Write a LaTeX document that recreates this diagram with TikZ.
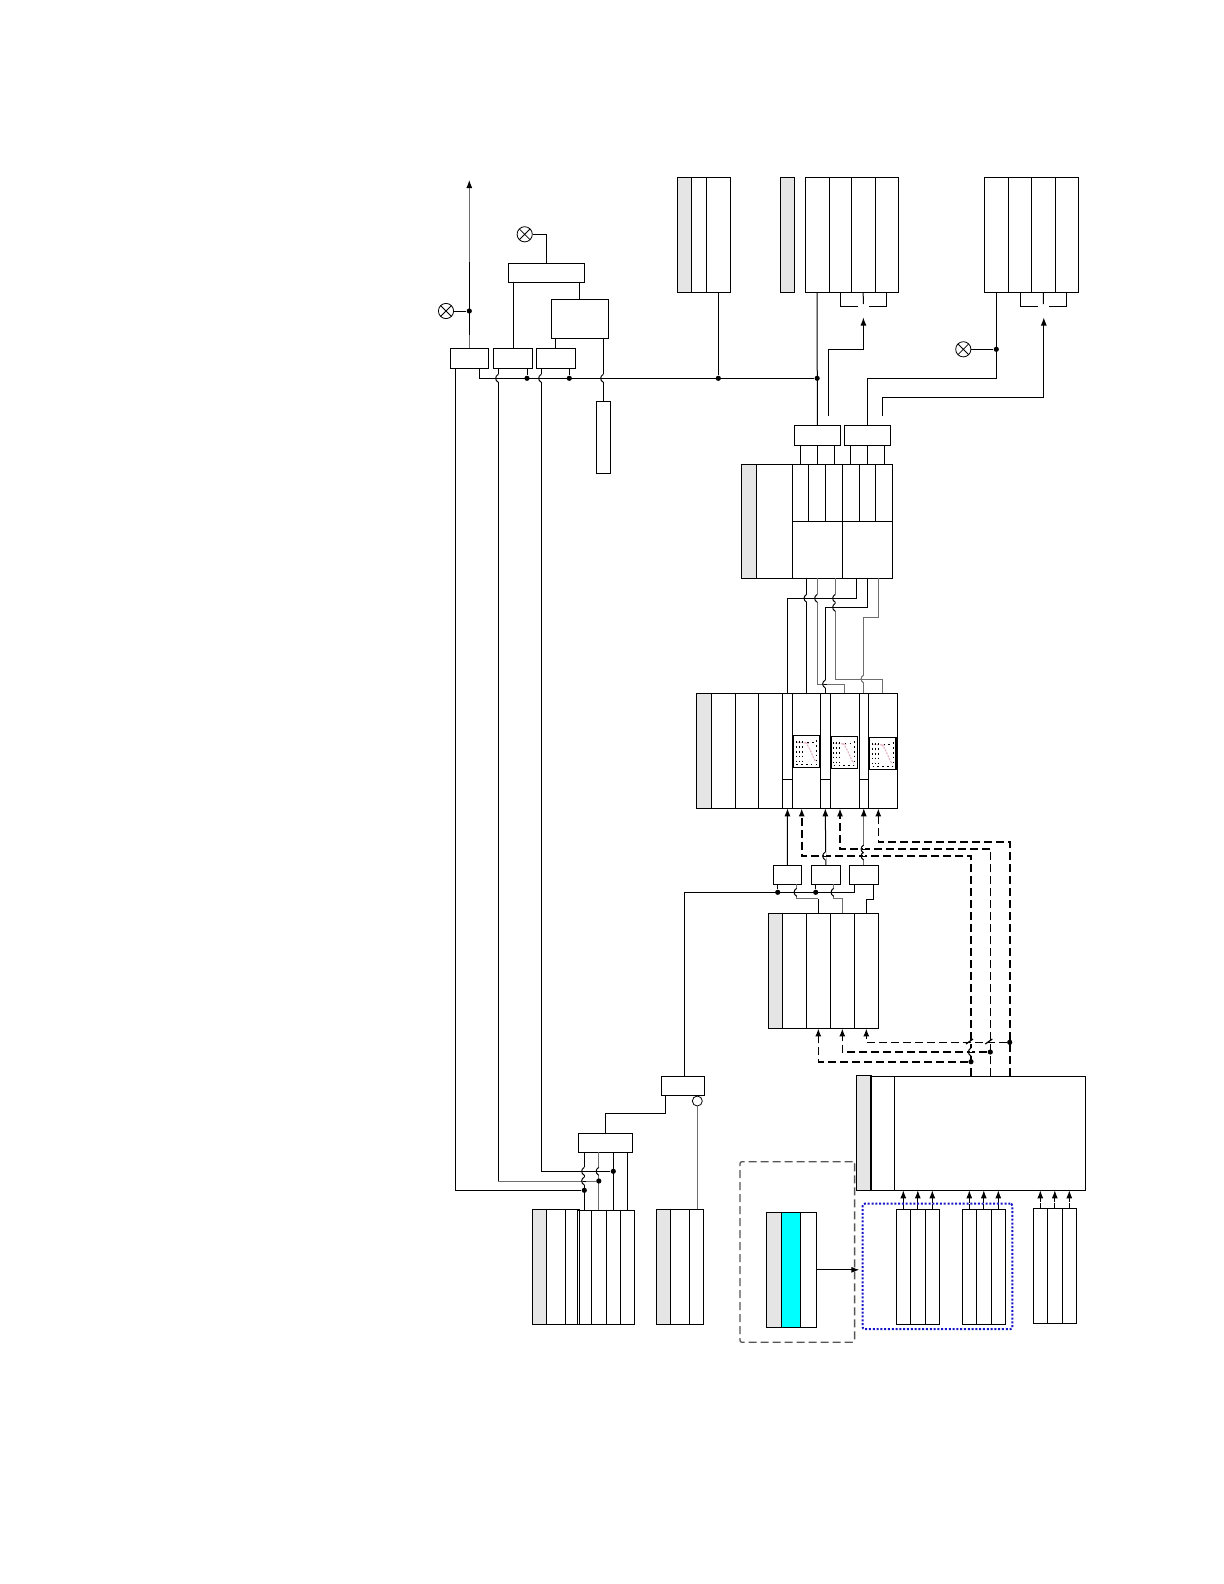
\documentclass[tikz,border=0pt]{standalone}
\usetikzlibrary{arrows.meta}
\definecolor{panelgray}{RGB}{229,229,229}
\definecolor{wiregray}{RGB}{110,110,110}
\definecolor{framegray}{RGB}{85,85,85}
\definecolor{linkblue}{RGB}{20,20,200}
\definecolor{plotpink}{RGB}{225,170,185}
\definecolor{slotcyan}{RGB}{0,255,255}
\tikzset{
	wire/.style={line width=.5pt},
	greywire/.style={line width=.5pt,draw=wiregray},
	dashwire/.style={line width=.8pt,dash pattern=on 4pt off 2pt},
	tip/.style={-{Latex[length=4pt,width=3pt,color=black]}},
	cell/.style={draw,line width=.5pt,inner sep=0pt,outer sep=0pt},
	shaded/.style={fill=panelgray},
	dot/.style={circle,fill=black,inner sep=0pt,minimum size=2.6pt},
	lamp/.style={circle,draw,line width=.4pt,inner sep=0pt,minimum size=7.6pt,
		path picture={\draw[line width=.4pt] (path picture bounding box.north west)--(path picture bounding box.south east)
			(path picture bounding box.north east)--(path picture bounding box.south west);}},
	ring/.style={circle,draw,line width=.4pt,inner sep=0pt,minimum size=5pt},
}
\newcommand{\cellbox}[6][]{\node[cell,#1,minimum width={(#4-#2)*.5pt},minimum height={(#5-#3)*.5pt}] (#6) at ({(#2+#4)/2},{(#3+#5)/2}) {};}
\newcommand{\cellrow}[6][]{\foreach \xr [count=\n,remember=\xr as \xl (initially #5)] in {#6} {
		\ifnum\n=1 \cellbox[#1]{\xl}{#3}{\xr}{#4}{#2\n} \else \cellbox{\xl}{#3}{\xr}{#4}{#2\n} \fi}}
\newcommand{\hopv}[3][wire]{
	\fill[white] (#2-.9,#3-4) rectangle (#2+.9,#3+4);
	\draw[#1] (#2-1.2,#3) -- (#2+1.2,#3);
	\draw[#1] (#2,#3-4) .. controls (#2-3.5,#3-2) and (#2-3.5,#3+2) .. (#2,#3+4);}
\newcommand{\miniplot}[3]{
	\cellbox[line width=.75pt,fill=white]{#2}{#3}{#2+26.7}{#3+32}{#1}
	\draw[plotpink,line width=.5pt,dash pattern=on 1pt off .6pt] (#2+12,#3+7) .. controls (#2+17,#3+12) and (#2+19,#3+22) .. (#2+23,#3+27);
	\draw[plotpink,line width=.5pt,dash pattern=on 1pt off .6pt] (#2+4,#3+7) -- (#2+16,#3+8);
	\foreach \ix in {3,6,9} \draw[line width=.45pt,dash pattern=on .8pt off 1.6pt] (#2+\ix,#3+6) -- (#2+\ix,#3+29);
	\draw[line width=.5pt,dash pattern=on .8pt off 1.6pt] (#2+3,#3+29) -- (#2+23,#3+29);
	\draw[line width=.5pt,dash pattern=on .8pt off 1.6pt] (#2+14,#3+7) -- (#2+23,#3+7);
	\draw[line width=.5pt,dash pattern=on .8pt off 1.6pt] (#2+23.5,#3+5) -- (#2+23.5,#3+29);}
\begin{document}
\begin{tikzpicture}[x=.5pt,y=-.5pt]
	\useasboundingbox (0,0) rectangle (1224,1584);
	%Top row of stacks
	\cellrow[shaded]{g}{177.3}{292.3}{677.3}{691.7,706.3,730.3}
	\cellbox[shaded]{780.7}{177.3}{794.8}{292.3}{h}
	\cellrow{i}{177.3}{292.3}{805.3}{829,851.3,875,898.3}
	\cellrow{j}{177.3}{292.3}{984.3}{1008.3,1031.7,1055,1078.3}
	%Small boxes on the left
	\cellbox{450.3}{348}{488.3}{368.3}{boxa}
	\cellbox{493.3}{348}{532.3}{368.3}{boxb}
	\cellbox{536.3}{348}{575.3}{368.3}{boxc}
	\cellbox{508.3}{263.3}{584.3}{282.3}{boxd}
	\cellbox{551.3}{299.3}{608.3}{338.3}{boxe}
	\cellbox{596.3}{401}{610.3}{473.3}{barf}
	\node[lamp] (lampa) at (446,311) {};
	\node[lamp] (lampb) at (524.7,234.3) {};
	\node[lamp] (lampc) at (963.3,349.3) {};
	%Top arrow
	\coordinate (topmid) at (469.3,262);
	\coordinate (toptip) at (469.3,180);
	\draw[wire] (boxa.north) -- (topmid);
	\draw[greywire,tip] (topmid) -- (toptip);
	\draw[greywire] (boxa.north) -- ++(0,-13);
	\node[dot] (dota) at (boxa.north |- lampa) {};
	\draw[wire] (lampa) -- (dota);
	%Around the small boxes
	\draw[wire] (lampb) -| (boxd.north);
	\draw[wire] (513.3,282.3) -- (513.3,348);
	\draw[wire] (579.3,282.3) -- (579.3,299.3);
	\draw[wire] (555.7,338.3) -- (555.7,348);
	\draw[wire] (603.3,338.3) -- (barf.north);
	%Bus
	\coordinate (busa) at (479.3,378.3);
	\node[dot] (dotb) at (527,378.3) {};
	\node[dot] (dotc) at (569.3,378.3) {};
	\node[dot] (dotg) at (g3.south |- busa) {};
	\node[dot] (doti) at (i1.south |- busa) {};
	\draw[wire] (busa |- boxa.south) |- (doti);
	\draw[wire] (dotb |- boxb.south) -- (dotb);
	\draw[wire] (dotc |- boxc.south) -- (dotc);
	\draw[wire] (g3.south) -- (dotg);
	%Top stacks down to the two boxes
	\cellbox{794.3}{425.3}{840.3}{445.3}{boxk}
	\cellbox{844.3}{425.3}{890.3}{445.3}{boxl}
	\draw[wire] (i1.south) -- (boxk.north);
	\node[dot] (dotj) at (j1.south |- lampc) {};
	\draw[wire] (lampc) -- (dotj);
	\draw[wire] (j1.south) |- (boxl.north |- busa) -- (boxl.north);
	\coordinate (bri) at (863.4,306);
	\coordinate (brj) at (1043.4,306);
	\draw[wire] (i2.south) |- ([xshift=-2.9pt]bri);
	\draw[wire] (i4.south) |- ([xshift=2.9pt]bri);
	\draw[wire] (i3.south) -- ([yshift=1pt]bri);
	\draw[wire] (j2.south) |- ([xshift=-2.9pt]brj);
	\draw[wire] (j4.south) |- ([xshift=2.9pt]brj);
	\draw[wire] (j3.south) -- ([yshift=1pt]brj);
	\coordinate (kout) at (828.3,416);
	\coordinate (lout) at (882.3,416);
	\coordinate (itip) at (863.4,317.5);
	\coordinate (jtip) at (1043.8,317.5);
	\draw[wire,tip] (kout) |- (itip |- lampc) -- (itip);
	\draw[wire,tip] (lout) -- (lout |- 0,397.3) -| (jtip);
	%Stack with the two sided cells
	\cellrow[shaded]{m}{464.3}{578.3}{741.3}{756.3,792.3}
	\cellrow{mu}{464.3}{521.3}{792.3}{808.7,825.7,842.3,859.3,875.7,892.3}
	\cellrow{ml}{521.3}{578.3}{792.3}{842.3,892.3}
	\foreach \n in {1,2,3} \draw[wire] (mu\n.north) -- (mu\n.north |- boxk.south);
	\foreach \n in {4,5,6} \draw[wire] (mu\n.north) -- (mu\n.north |- boxl.south);
	%Stack with the small plots
	\cellrow[shaded]{n}{693.3}{808.3}{696.3}{711.3,735.3,758.3,782.7,792.3,820.3,830.3,859.3,868.3,897.3}
	\cellbox{782.7}{779.3}{792.3}{808.3}{nfa}
	\cellbox{820.3}{779.3}{830.3}{808.3}{nfb}
	\cellbox{859.3}{779.3}{868.3}{808.3}{nfc}
	\miniplot{plota}{793.3}{735.3}
	\miniplot{plotb}{830.8}{736.3}
	\miniplot{plotc}{869.5}{737.3}
	%Wires between the two stacks
	\coordinate (outa) at (835.3,578.3);
	\coordinate (outb) at (856.3,578.3);
	\coordinate (outc) at (878,578.3);
	\draw[wire] (n6.north |- ml1.south) -- (n6.north);
	\draw[greywire] (ml1.south) -- (ml1.south |- 0,684) -| (n8.north);
	\draw[greywire] (outa) -- (outa |- 0,679) -| (n10.north);
	\draw[wire] (outb) -- (outb |- 0,598.3) -| (n5.north);
	\draw[wire] (ml2.south) -- (ml2.south |- 0,607.3) -| (n7.north);
	\draw[greywire] (outc) -- (outc |- 0,617) -| (n9.north);
	\hopv{806.7}{598.3}
	\hopv{817.3}{598.3}
	\hopv{835.3}{598.3}
	\hopv{835.3}{607.3}
	\hopv{825.3}{684}
	\hopv[greywire]{863.7}{679}
	%Boxes under the plots
	\cellbox{773.3}{865.3}{801.3}{884.3}{boxp}
	\cellbox{811.3}{865.3}{840.3}{884.3}{boxq}
	\cellbox{849.3}{865.3}{878.3}{884.3}{boxs}
	\draw[wire,tip] (boxp.north) -- (n5.south);
	\draw[wire,tip] (boxq.north) -- (n7.south);
	\draw[greywire,tip] (boxs.north) -- (n9.south);
	%Stack under the boxes
	\cellrow[shaded]{s}{913.3}{1028.3}{768.3}{782.3,806.3,830.3,854.3,878.3}
	\cellbox{661.3}{1076.3}{704.3}{1095}{boxr}
	\node[dot] (dotp) at (777.7,892.3) {};
	\node[dot] (dotq) at (815.7,892.3) {};
	\draw[wire] (854.7,884.3) |- (684.7,892.3) -- (684.7,1076.3);
	\draw[wire] (dotp) -- (dotp |- boxp.south);
	\draw[wire] (dotq) -- (dotq |- boxq.south);
	\draw[wire] (s3.north) -- (s3.north |- 0,898.7);
	\draw[greywire] (s3.north |- 0,898.7) -| (796.7,884.3);
	\draw[greywire] (s4.north) -- (s4.north |- 0,898.7) -| (833.7,884.3);
	\draw[wire] (s5.north) -- (s5.north |- 0,899.3) -| (873.7,884.3);
	\hopv{796.7}{892.3}
	\hopv{833.7}{892.3}
	%Large stack and the dashed loops
	\cellbox[shaded]{856.3}{1075}{870.7}{1190.3}{tg}
	\cellrow{t}{1076.3}{1190.3}{870.7}{894.3,1085.7}
	\draw[line width=.9pt] (tg.north east) -- (tg.south east);
	\coordinate (loopa) at (971,1076.3);
	\coordinate (loopb) at (990.3,1076.3);
	\coordinate (loopc) at (1009.7,1076.3);
	\coordinate (ntipa) at (801.7,808.3);
	\coordinate (ntipb) at (840,808.3);
	\coordinate (ntipc) at (878.3,808.3);
	\draw[dashwire,tip] (loopa) -- (loopa |- 0,856) -| (ntipa);
	\draw[dashwire,tip] (loopb) -- (loopb |- 0,849) -| (ntipb);
	\draw[dashwire,tip] (loopc) -- (loopc |- 0,842) -| (ntipc);
	\node[dot] (dotsa) at (loopa |- 0,1061.7) {};
	\node[dot] (dotsb) at (loopb |- 0,1052) {};
	\node[dot] (dotsc) at (loopc |- 0,1042.3) {};
	\draw[dashwire,tip] (dotsa) -| (s3.south);
	\draw[dashwire,tip] (dotsb) -| (s4.south);
	\draw[dashwire,tip] (dotsc) -| (s5.south);
	\hopv{825.3}{856}
	\hopv{863.7}{856}
	\hopv{863.7}{849}
	\hopv{971}{1052}
	\draw[line width=.6pt] (966,1044) -- (973,1039);
	\draw[line width=.6pt] (985.3,1044) -- (992.3,1039);
	%Stacks at the bottom right
	\cellrow{ua}{1209.3}{1324.3}{896.3}{910.3,925.3,939.3}
	\cellrow{ub}{1209.3}{1324.3}{962.3}{976.3,991.3,1005.3}
	\cellrow{uc}{1208.3}{1323.3}{1033.3}{1047.3,1062.3,1076.3}
	\foreach \u in {ua,ub,uc} \foreach \n in {1,2,3}
		\draw[wire,dash pattern=on 2.5pt off .8pt,tip] (\u\n.north) -- (\u\n.north |- t2.south);
	\node[draw=linkblue,line width=1pt,dash pattern=on 1pt off .9pt,rounded corners=1pt,inner sep=0pt,minimum width=74.8pt,minimum height=62.7pt] (linkbox) at (937.5,1266.4) {};
	%Stack with the cyan cell
	\node[draw=framegray,line width=.65pt,dash pattern=on 4pt off 2pt,rounded corners=1pt,inner sep=0pt,minimum width=57.3pt,minimum height=90.3pt] (spare) at (797.3,1252) {};
	\cellbox[shaded]{766.3}{1212.3}{781.7}{1327.3}{va}
	\cellbox[fill=slotcyan]{781.7}{1212.3}{800.3}{1327.3}{vb}
	\cellbox{800.3}{1212.3}{816.3}{1327.3}{vc}
	\draw[wire,tip] (vc.east) -- (vc.east -| 859.3,0);
	%Stacks at the bottom left
	\cellrow[shaded]{y}{1209.3}{1324.3}{532.3}{546.7,565.7,579.7}
	\cellrow{z}{1210.3}{1324.3}{577.3}{591.3,606.3,620.3,634.7}
	\cellrow[shaded]{w}{1209.3}{1324.3}{656.3}{670.3,689.3,703.3}
	\cellbox{578.3}{1133.3}{632.3}{1152.3}{boxx}
	\node[ring] (ringr) at (697.3,1101) {};
	\draw[greywire] (ringr) -- (ringr |- w3.north);
	\draw[wire] (665.3,1095) |- (boxx.north |- 0,1113.3) -- (boxx.north);
	\draw[wire] (z1.north) -- (z1.north |- boxx.south);
	\draw[greywire] (z2.north) -- (z2.north |- boxx.south);
	\draw[wire] (z3.north) -- (z3.north |- boxx.south);
	\draw[wire] (z4.north) -- (z4.north |- boxx.south);
	\node[dot] (dotza) at (z1.north |- 0,1190.3) {};
	\node[dot] (dotzb) at (z2.north |- 0,1181) {};
	\node[dot] (dotzc) at (z3.north |- 0,1171.3) {};
	%Long returns from the small boxes
	\draw[wire] (455.3,368.3) |- (dotza);
	\draw[wire] (498.3,368.3) -- (498.3,1181);
	\draw[greywire] (498.3,1181) -- (dotzb);
	\draw[wire] (541.3,368.3) |- (dotzc);
	\hopv{498.3}{378.3}
	\hopv{541.3}{378.3}
	\hopv{603.3}{378.3}
	\hopv{584.3}{1171.3}
	\hopv{584.3}{1181}
	\hopv{598.8}{1171.3}
\end{tikzpicture}
\end{document}
